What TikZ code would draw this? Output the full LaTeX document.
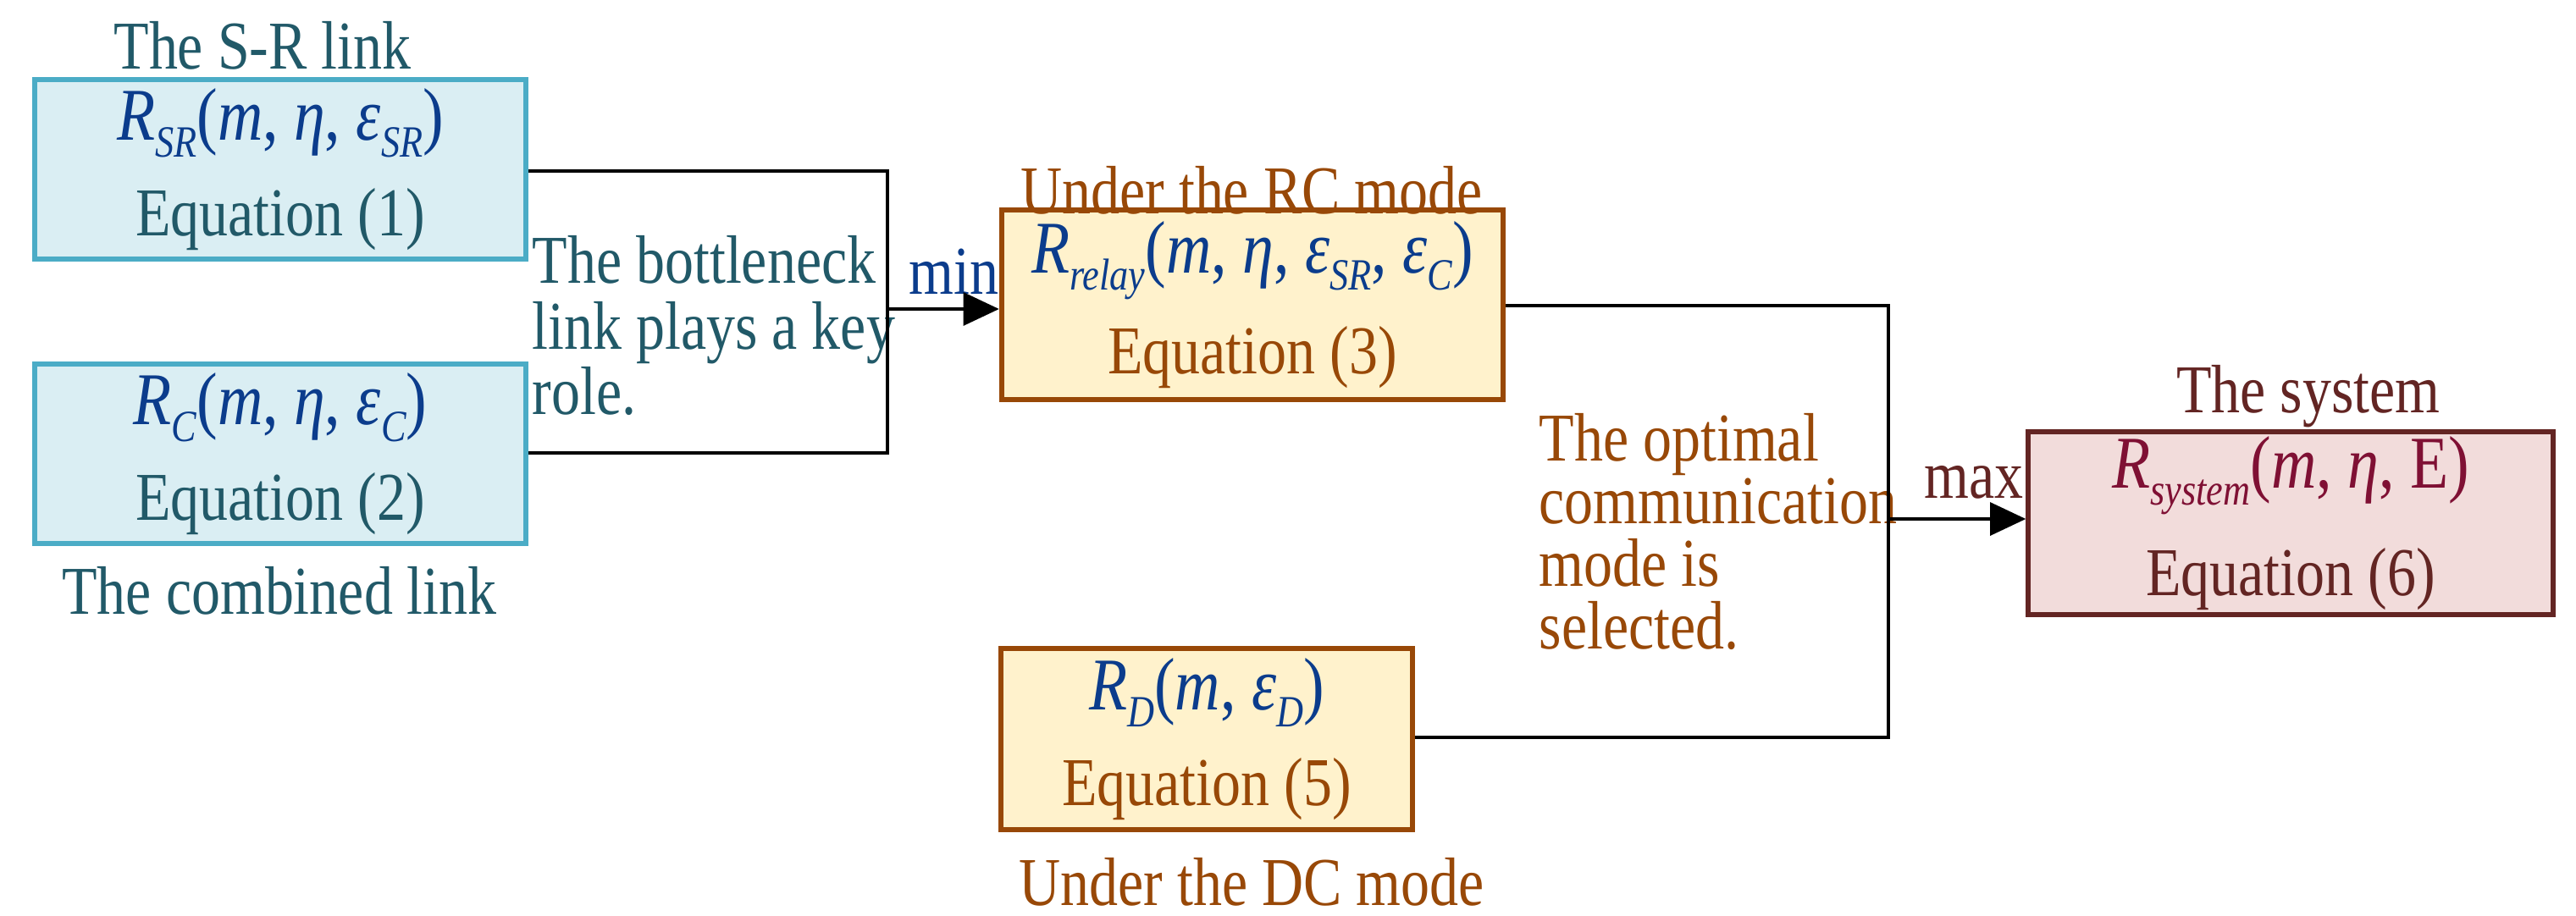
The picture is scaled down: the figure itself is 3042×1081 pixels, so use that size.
\documentclass[tikz,border=0pt]{standalone}
\usepackage{fontspec}
\setmainfont{Liberation Serif}[FakeStretch=0.84]
\usetikzlibrary{arrows.meta}
\definecolor{bfill}{HTML}{DAEEF3}\definecolor{bdraw}{HTML}{4BACC6}\definecolor{btext}{HTML}{215968}\definecolor{bmath}{HTML}{0B3C8C}
\definecolor{ofill}{HTML}{FFF2CC}\definecolor{odraw}{HTML}{984807}\definecolor{otext}{HTML}{984807}
\definecolor{pfill}{HTML}{F2DCDB}\definecolor{pdraw}{HTML}{632523}\definecolor{ptext}{HTML}{632523}\definecolor{pmath}{HTML}{7F1034}
\newcommand{\sbx}[1]{\raisebox{-0.5ex}{\fontsize{15}{15}\selectfont\textit{#1}}}
\newcommand{\mth}[1]{{\fontsize{25}{22}\selectfont #1}}
\begin{document}
\begin{tikzpicture}[x=0.01cm,y=-0.01cm,
  font=\fontsize{23}{22}\selectfont,
  box/.style={draw,line width=1.7pt,minimum width=5.8cm,minimum height=2.12cm,align=center,inner sep=0pt},
  conn/.style={line width=1.2pt,black},
  arr/.style={conn,-{Triangle[length=12pt,width=11pt]}},
  lab/.style={inner sep=0pt}]
\useasboundingbox (0,0) rectangle (3042,1081);
\node[box,fill=bfill,draw=bdraw,text=btext] (b1) at (331,200) {{\color{bmath}\mth{\textit{R}\sbx{SR}(\textit{m}, \textit{η}, \textit{ε}\sbx{SR})}}\\[10pt]Equation (1)};
\node[box,fill=bfill,draw=bdraw,text=btext] (b2) at (331,536) {{\color{bmath}\mth{\textit{R}\sbx{C}(\textit{m}, \textit{η}, \textit{ε}\sbx{C})}}\\[10pt]Equation (2)};
\node[box,fill=ofill,draw=odraw,text=otext,minimum width=5.92cm,minimum height=2.23cm] (b3) at (1479,360) {{\color{bmath}\mth{\textit{R}\sbx{relay}(\textit{m}, \textit{η}, \textit{ε}\sbx{SR}, \textit{ε}\sbx{C})}}\\[8pt]Equation (3)};
\node[box,fill=ofill,draw=odraw,text=otext,minimum width=4.85cm,minimum height=2.14cm] (b4) at (1425,873) {{\color{bmath}\mth{\textit{R}\sbx{D}(\textit{m}, \textit{ε}\sbx{D})}}\\[10pt]Equation (5)};
\node[box,fill=pfill,draw=pdraw,text=ptext,minimum width=6.19cm,minimum height=2.15cm] (b5) at (2705,618) {{\color{pmath}\mth{\textit{R}\sbx{system}(\textit{m}, \textit{η}, E)}}\\[10pt]Equation (6)};
\node[lab,text=btext] (t1) at (310,54) {The S-R link};
\node[lab,text=btext] (t2) at (330,698) {The combined link};
\node[lab,text=otext] (t3) at (1478,225) {Under the RC mode};
\node[lab,text=otext] (t4) at (1478,1042) {Under the DC mode};
\node[lab,text=ptext] (t5) at (2726,468) {The system};
\node[lab,text=btext,anchor=north west,align=left] (t6) at (628,278) {The bottleneck\\link plays a key\\role.};
\node[lab,text=otext,anchor=north west,align=left,font=\fontsize{23}{21}\selectfont] (t7) at (1817,488) {The optimal\\communication\\mode is\\selected.};
\node[lab,text=bmath,anchor=east] (mn) at (1180,321) {min};
\node[lab,text=ptext,anchor=east] (mx) at (2390,570) {max};
\coordinate (j1) at (1048,365);
\coordinate (j2) at (2230,613);
\draw[conn] (b1.east |- 0,202) -| (j1);
\draw[conn] (b2.east |- 0,535) -| (j1);
\draw[arr] (j1) -- (b3.west |- j1);
\draw[conn] (b3.east |- 0,361) -| (j2);
\draw[conn] (b4.east |- 0,871) -| (j2);
\draw[arr] (j2) -- (b5.west |- j2);
\end{tikzpicture}
\end{document}
